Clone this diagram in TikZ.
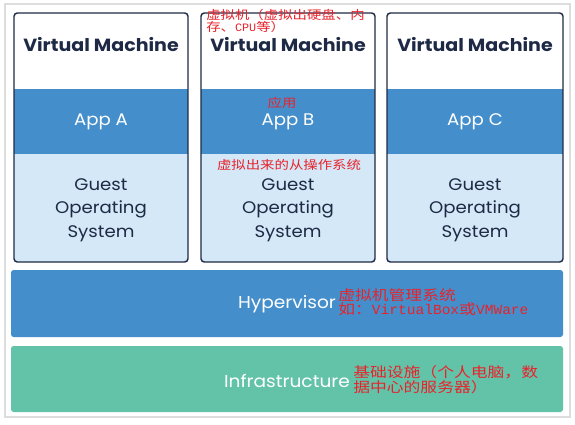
\documentclass[tikz,border=0pt]{standalone}
\usepackage{fontspec}
\setmainfont{Poppins}[FakeStretch=1.08]
\newfontfamily\cjk[FakeStretch=1.2]{Noto Sans CJK SC}
\newfontfamily\cjkmono{Liberation Mono}[FakeStretch=1.04]
\definecolor{navy}{HTML}{1E2A45}
\definecolor{appblue}{HTML}{448FCB}
\definecolor{oslight}{HTML}{D5E8F7}
\definecolor{infragreen}{HTML}{63C3A9}
\definecolor{annred}{HTML}{E8222A}
\definecolor{framegray}{HTML}{DDDDDD}
\tikzset{
  vmframe/.style={draw=navy, line width=1.1pt, rounded corners=2.5pt},
  vmtitle/.style={text=navy, font=\fontsize{13.2}{16}\selectfont\bfseries, inner sep=0pt},
  apptext/.style={text=white, font=\fontsize{12.6}{14}\selectfont, inner sep=0pt},
  ostext/.style={text=navy, font=\fontsize{12.6}{17.6}\selectfont, align=center, inner sep=0pt},
  layertext/.style={text=white, font=\fontsize{12.9}{15}\selectfont, inner sep=0pt},
  annsmall/.style={text=annred, font=\cjk\fontsize{9}{9}\selectfont, align=left, inner sep=0pt},
  annbig/.style={text=annred, font=\cjk\fontsize{10.5}{11}\selectfont, align=left, inner sep=0pt},
}
\begin{document}
\begin{tikzpicture}[x=0.75pt, y=-0.75pt]
\useasboundingbox (0,0) rectangle (575,425);
\draw[framegray, line width=0.8pt] (5,4) rectangle (570,417);
% VMs
\foreach \l/\r/\nm/\app in {14/188/A/App A, 201/375/B/App B, 387/563/C/App C}{
  \fill[appblue] (\l,89) rectangle (\r,154);
  \fill[oslight, rounded corners=2.5pt] (\l,154) -- (\l,262) -- (\r,262) -- (\r,154) -- cycle;
  \fill[oslight] (\l,154) rectangle (\r,200);
  \draw[vmframe] (\l,13) rectangle (\r,262);
  \node[vmtitle] (title\nm) at ({(\l+\r)/2},45) {Virtual Machine};
  \node[apptext] (app\nm) at ({(\l+\r)/2},122) {\app};
  \node[ostext] (os\nm) at ({(\l+\r)/2},210) {Guest\\Operating\\System};
}
% layers
\fill[appblue, rounded corners=2pt] (11,270) rectangle (563,337);
\node[layertext] (hyper) at (287,304) {Hypervisor};
\fill[infragreen, rounded corners=2pt] (11,346) rectangle (563,412);
\node[layertext] (infra) at (287,381) {Infrastructure};
% annotations
\node[annsmall, anchor=west] (annvm) at (206,21) {虚拟机（虚拟出硬盘、内\\存、{\cjkmono\fontsize{8.5}{9}\selectfont CPU}等）};
\node[annsmall, anchor=center] (annapp) at (282,103) {应用};
\node[annsmall, anchor=center] (annos) at (289,165) {虚拟出来的从操作系统};
\node[annbig, anchor=west] (annhyper) at (338,302) {虚拟机管理系统\\如：{\cjkmono VirtualBox}或{\cjkmono VMWare}};
\node[annbig, anchor=west] (anninfra) at (353,380) {基础设施（个人电脑，数\\据中心的服务器）};
\end{tikzpicture}
\end{document}
